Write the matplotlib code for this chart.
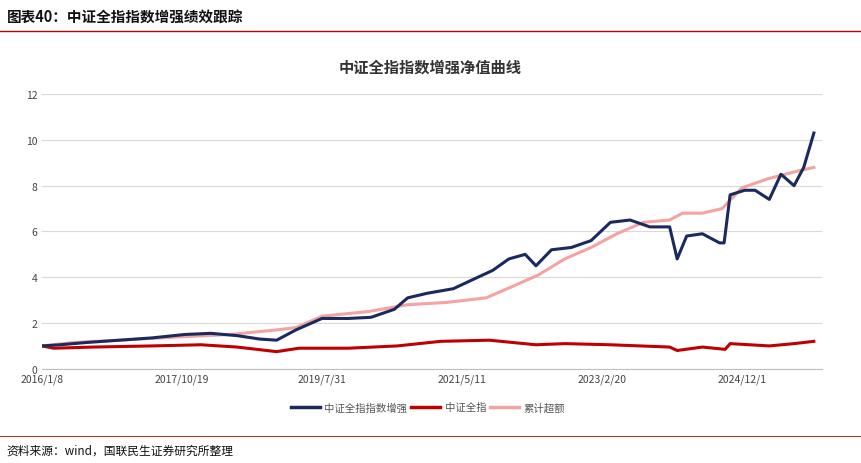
import numpy as np
import pandas as pd
import matplotlib
matplotlib.use("Agg")
import matplotlib.pyplot as plt
import matplotlib.dates as mdates
from matplotlib.lines import Line2D

plt.rcParams['font.family'] = ['Noto Sans CJK SC', 'DejaVu Sans']

# ── data ─────────────────────────────────────────────────────────────────────
enh_dates = ["2016-01-08", "2016-04-01", "2016-08-01", "2017-01-01", "2017-06-01",
             "2017-11-01", "2018-03-01", "2018-07-01", "2018-10-15", "2019-01-01",
             "2019-04-01", "2019-07-31", "2019-12-01", "2020-03-15", "2020-07-01",
             "2020-09-01", "2020-12-01", "2021-04-01", "2021-07-01", "2021-10-01",
             "2021-12-15", "2022-03-01", "2022-04-20", "2022-07-01", "2022-10-01",
             "2023-01-01", "2023-04-01", "2023-07-01", "2023-10-01", "2024-01-01",
             "2024-02-05", "2024-03-20", "2024-06-01", "2024-08-20", "2024-09-10",
             "2024-10-08", "2024-12-15", "2025-02-01", "2025-04-08", "2025-06-01",
             "2025-08-01", "2025-09-15", "2025-11-01"]
enh_vals = [1.0, 1.05, 1.15, 1.25, 1.35,
            1.5, 1.55, 1.45, 1.3, 1.25,
            1.7, 2.2, 2.2, 2.25, 2.6,
            3.1, 3.3, 3.5, 3.9, 4.3,
            4.8, 5.0, 4.5, 5.2, 5.3,
            5.6, 6.4, 6.5, 6.2, 6.2,
            4.8, 5.8, 5.9, 5.5, 5.5,
            7.6, 7.8, 7.8, 7.4, 8.5,
            8.0, 8.8, 10.3]

exc_dates = ["2016-01-08", "2016-06-01", "2017-01-01", "2017-10-19", "2018-06-01",
             "2019-01-01", "2019-04-01", "2019-07-31", "2020-03-01", "2020-09-01",
             "2021-03-01", "2021-09-01", "2022-01-01", "2022-05-01", "2022-09-01",
             "2023-01-01", "2023-05-01", "2023-09-01", "2024-01-01", "2024-03-01",
             "2024-06-01", "2024-09-01", "2024-12-01", "2025-04-01", "2025-08-01",
             "2025-11-01"]
exc_vals = [1.0, 1.15, 1.25, 1.4, 1.5,
            1.7, 1.8, 2.3, 2.5, 2.8,
            2.9, 3.1, 3.6, 4.1, 4.8,
            5.3, 5.9, 6.4, 6.5, 6.8,
            6.8, 7.0, 7.9, 8.3, 8.6,
            8.8]

idx_dates = ["2016-01-08", "2016-03-01", "2016-09-01", "2017-06-01", "2018-01-15",
             "2018-07-01", "2019-01-01", "2019-04-15", "2019-12-01", "2020-07-15",
             "2021-02-01", "2021-09-15", "2022-04-20", "2022-09-01", "2023-04-01",
             "2024-01-01", "2024-02-05", "2024-06-01", "2024-09-15", "2024-10-08",
             "2025-04-08", "2025-08-01", "2025-11-01"]
idx_vals = [1.0, 0.9, 0.95, 1.0, 1.05,
            0.95, 0.75, 0.9, 0.9, 1.0,
            1.2, 1.25, 1.05, 1.1, 1.05,
            0.95, 0.8, 0.95, 0.85, 1.1,
            1.0, 1.1, 1.2]

xtick_labels = ["2016/1/8", "2017/10/19", "2019/7/31", "2021/5/11", "2023/2/20", "2024/12/1"]
legend_labels = ["中证全指指数增强", "中证全指", "累计超额"]

C_ENH = "#1b2a5e"
C_IDX = "#c00000"
C_EXC = "#f4a3a3"

fig = plt.figure(figsize=(8.61, 4.64), dpi=100)
ax = fig.add_axes([0.049, 0.203, 0.906, 0.592])

ax.plot(pd.to_datetime(exc_dates), exc_vals, color=C_EXC, lw=2.2)
ax.plot(pd.to_datetime(idx_dates), idx_vals, color=C_IDX, lw=2.2)
ax.plot(pd.to_datetime(enh_dates), enh_vals, color=C_ENH, lw=2.2)

ax.set_ylim(0, 12)
ax.set_yticks(range(0, 13, 2))
ax.set_xlim(pd.Timestamp("2016-01-08"), pd.Timestamp("2025-12-10"))
ax.set_xticks(pd.to_datetime([s.replace("/", "-") for s in xtick_labels]))
ax.set_xticklabels(xtick_labels)
ax.tick_params(labelsize=7.5, colors="#444444", length=0)
ax.grid(axis="y", color="#d9d9d9", lw=0.8)
for s in ["top", "right", "left"]:
    ax.spines[s].set_visible(False)
ax.spines["bottom"].set_color("#bfbfbf")

handles = [Line2D([], [], color=C_ENH, lw=2.5),
           Line2D([], [], color=C_IDX, lw=2.5),
           Line2D([], [], color=C_EXC, lw=2.5)]
fig.legend(handles, legend_labels, loc="center",
           bbox_to_anchor=(0.497, 0.12), ncol=3, frameon=False, fontsize=7.5,
           handlelength=2.8, handletextpad=0.4, columnspacing=0.4,
           labelcolor="#555555")

fig.text(0.5, 0.855, "中证全指指数增强净值曲线", ha="center", va="center",
         fontsize=11, fontweight="bold", color="#333333")
fig.text(0.008, 0.965, "图表40：中证全指指数增强绩效跟踪", ha="left", va="center",
         fontsize=10.5, fontweight="bold", color="#111111")
fig.add_artist(Line2D([0.0, 1.0], [0.932, 0.932], color="#c00000", lw=1.0))
fig.add_artist(Line2D([0.0, 1.0], [0.058, 0.058], color="#c00000", lw=0.6))
fig.text(0.008, 0.028, "资料来源：wind，国联民生证券研究所整理", ha="left", va="center",
         fontsize=8.5, color="#111111")

fig.savefig("out.png", dpi=100)
